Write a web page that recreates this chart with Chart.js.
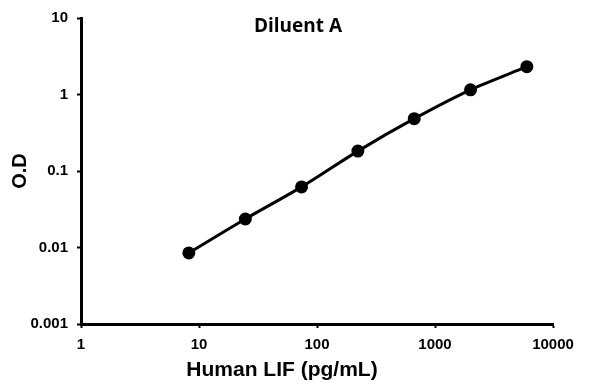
<!DOCTYPE html>
<html>
<head>
<meta charset="utf-8">
<script src="https://cdn.jsdelivr.net/npm/chart.js@4.4.1/dist/chart.umd.min.js"></script>
<style>
  html, body { margin: 0; padding: 0; background: #fff; }
  #wrap { width: 596px; height: 384px; }
</style>
</head>
<body>
<div id="wrap"><canvas id="odChart" width="596" height="384"></canvas></div>
<script>
// standard curve, Diluent A
const concentrations = [8.2, 24.7, 74, 222, 667, 2000, 6000];
const odValues = [0.0085, 0.0236, 0.062, 0.182, 0.483, 1.15, 2.31];
const xTicks = [1, 10, 100, 1000, 10000];
const yTicks = [0.001, 0.01, 0.1, 1, 10];

const tickFont = { family: 'Liberation Sans, Arial, sans-serif', size: 15, weight: 'bold' };

const textPlugin = {
    id: 'extraText',
    afterDraw(chart) {
        const ctx = chart.ctx;
        ctx.save();
        ctx.fillStyle = '#000';
        ctx.textAlign = 'center';
        ctx.textBaseline = 'middle';
        ctx.font = 'bold 19px "Open Sans", sans-serif';
        ctx.fillText('Diluent A', 298, 27);
        ctx.font = 'bold 21px "Liberation Sans", Arial, sans-serif';
        ctx.fillText('Human LIF (pg/mL)', 282, 370);
        ctx.restore();
    }
};

new Chart(document.getElementById('odChart').getContext('2d'), {
    type: 'line',
    data: {
        datasets: [{
            data: concentrations.map((c, i) => ({ x: c, y: odValues[i] })),
            borderColor: '#000', backgroundColor: '#000',
            borderWidth: 3, pointRadius: 5, pointBackgroundColor: '#000',
            tension: 0.3, fill: false
        }]
    },
    options: {
        responsive: false, animation: false,
        layout: { padding: { top: 16, right: 43, left: 0, bottom: 0 } },
        plugins: { legend: { display: false }, tooltip: { enabled: false } },
        scales: {
            x: {
                type: 'logarithmic', min: 1, max: 10000,
                afterBuildTicks: s => { s.ticks = xTicks.map(v => ({ value: v })); },
                afterFit: s => { s.height = 60; },
                ticks: { color: '#000', font: tickFont, padding: 8, maxRotation: 0, autoSkip: false, callback: v => String(v) },
                grid: { drawOnChartArea: false, tickLength: 4, tickWidth: 2, tickColor: '#000' },
                border: { color: '#000', width: 3 }
            },
            y: {
                type: 'logarithmic', min: 0.001, max: 10,
                afterBuildTicks: s => { s.ticks = yTicks.map(v => ({ value: v })); },
                afterFit: s => { s.width = 81; },
                ticks: { color: '#000', font: tickFont, padding: 9, autoSkip: false, callback: v => String(v) },
                grid: { drawOnChartArea: false, tickLength: 4, tickWidth: 2, tickColor: '#000' },
                border: { color: '#000', width: 3 },
                title: { display: true, text: 'O.D', color: '#000', padding: { top: 8, bottom: 0 },
                         font: { family: 'Liberation Sans, Arial, sans-serif', size: 20, weight: 'bold' } }
            }
        }
    },
    plugins: [textPlugin]
});
</script>
</body>
</html>
